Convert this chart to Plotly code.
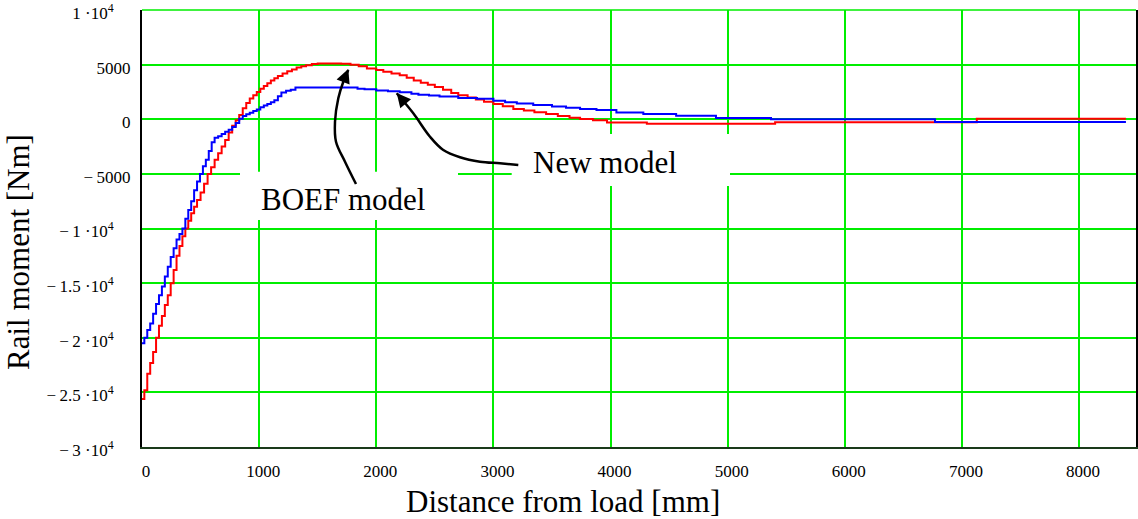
import plotly.graph_objects as go

# ---------------- data ----------------
boef_x = [0, 20, 45, 70, 95, 120, 145, 170, 195, 220, 245, 270, 295, 320, 345, 370, 395, 420, 445, 470,
          500, 530, 560, 590, 620, 650, 680, 710, 740, 770, 800, 830, 860, 890, 920, 950, 980, 1010, 1040,
          1070, 1100, 1130, 1160, 1200, 1240, 1280, 1320, 1360, 1400, 1450, 1500, 1600, 1700, 1780, 1850,
          1920, 2000, 2060, 2130, 2200, 2260, 2320, 2380, 2440, 2500, 2570, 2640, 2700, 2780, 2850, 2920,
          3000, 3080, 3170, 3260, 3350, 3450, 3550, 3650, 3740, 3850, 3970, 4310, 5405, 7127, 8400]
boef_y = [-25600, -24800, -23300, -22300, -21300, -20000, -18900, -18000, -17000, -16100, -15000, -13800,
          -12500, -11600, -10700, -10000, -9300, -8600, -8000, -7400, -6700, -5900, -5000, -4400, -3700,
          -3100, -2500, -1900, -1200, -600, -100, 400, 1000, 1500, 1900, 2200, 2500, 2800, 3050, 3300, 3550,
          3750, 3950, 4200, 4400, 4550, 4750, 4850, 4950, 5050, 5100, 5100, 5080, 5000, 4850, 4650, 4500,
          4350, 4200, 4030, 3800, 3550, 3350, 3150, 2950, 2700, 2400, 2200, 2000, 1800, 1600, 1400, 1200,
          950, 800, 650, 480, 300, 150, 20, -100, -300, -420, -280, 50, 50]

new_x = [0, 20, 45, 70, 95, 120, 145, 170, 195, 220, 245, 270, 295, 320, 345, 370, 395, 420, 445, 470,
         495, 520, 545, 570, 595, 620, 650, 680, 710, 740, 770, 800, 830, 860, 890, 920, 950, 980, 1010,
         1040, 1070, 1100, 1130, 1160, 1190, 1230, 1270, 1310, 1840, 1900, 2000, 2100, 2200, 2300, 2360,
         2450, 2540, 2700, 2860, 3000, 3100, 3200, 3340, 3500, 3620, 3740, 3880, 4050, 4280, 4560, 4900,
         5370, 6770, 8400]
new_y = [-20500, -20000, -19300, -18700, -17800, -16900, -16100, -15300, -14400, -13500, -12600, -11800,
         -11000, -10500, -10000, -9100, -8300, -7500, -6500, -5700, -5000, -4300, -3700, -2900, -2100,
         -1700, -1550, -1350, -1150, -950, -700, -350, 50, 300, 450, 600, 750, 900, 1100, 1250, 1400, 1550,
         1750, 2100, 2450, 2600, 2700, 2900, 2800, 2750, 2640, 2570, 2480, 2330, 2250, 2180, 2080, 1950,
         1870, 1700, 1560, 1450, 1310, 1160, 1050, 940, 850, 630, 480, 320, 110, 0, -250, -250]

x_ticks = [0, 1000, 2000, 3000, 4000, 5000, 6000, 7000, 8000]
x_tick_text = ["0", "1000", "2000", "3000", "4000", "5000", "6000", "7000", "8000"]
y_ticks = [10000, 5000, 0, -5000, -10000, -15000, -20000, -25000, -30000]
PAD = "\u2007\u2007"
y_tick_text = ["1 ·10<sup>4</sup>" + PAD, "5000", "0", "−\u20095000", "−\u20091 ·10<sup>4</sup>" + PAD,
               "−\u20091.5 ·10<sup>4</sup>" + PAD, "−\u20092 ·10<sup>4</sup>" + PAD,
               "−\u20092.5 ·10<sup>4</sup>" + PAD, "−\u20093 ·10<sup>4</sup>" + PAD]

X_RANGE = [0, 8486]
Y_RANGE = [-30000, 10002]

# ---------------- layout geometry (pixels) ----------------
W, H = 1138, 519
PX_L, PX_R, PX_T, PX_B = 142, 1136, 10, 447


def px_x(px):
    return X_RANGE[0] + (px - PX_L) / (PX_R - PX_L) * (X_RANGE[1] - X_RANGE[0])


def px_y(py):
    return Y_RANGE[1] - (py - PX_T) / (PX_B - PX_T) * (Y_RANGE[1] - Y_RANGE[0])


def paper_x(px):
    return (px - PX_L) / (PX_R - PX_L)


def paper_y(py):
    return (PX_B - py) / (PX_B - PX_T)


FONT = "Liberation Serif, Times New Roman, serif"
GRID = "#00ee00"

fig = go.Figure()

fig.add_trace(go.Scatter(x=boef_x, y=boef_y, mode="lines", line=dict(color="#ff0000", width=2, shape="hv"),
                         name="BOEF model", hoverinfo="skip"))
fig.add_trace(go.Scatter(x=new_x, y=new_y, mode="lines", line=dict(color="#0000ff", width=2, shape="hv"),
                         name="New model", hoverinfo="skip"))

# curved callout arrows (pixel paths)
boef_arrow_px = [(356, 184), (345, 161.7), (336, 141.7), (335, 121.7), (338.3, 98.3), (343.3, 81.7), (348.3, 70)]
new_arrow_px = [(518.3, 165), (500, 163.3), (480, 161.7), (460, 157.3), (443.3, 150), (430, 136.7),
                (413.3, 113.3), (396.7, 93.3)]
for pts in (boef_arrow_px, new_arrow_px):
    fig.add_trace(go.Scatter(x=[px_x(p[0]) for p in pts], y=[px_y(p[1]) for p in pts], mode="lines",
                             line=dict(color="black", width=2.5, shape="spline", smoothing=1),
                             hoverinfo="skip", showlegend=False))

shapes = [
    # top grid line at 1·10^4 (plotly drops grid lines lying on the plot edge)
    dict(type="line", xref="paper", yref="paper", x0=0, x1=1, y0=1, y1=1,
         line=dict(color=GRID, width=1.6), layer="below"),
]
# white label boxes hiding the grid
for (x0, x1, y0, y1) in [(240, 458, 171.7, 220), (511.7, 730, 134, 186)]:
    shapes.append(dict(type="rect", xref="x", yref="y", x0=px_x(x0), x1=px_x(x1), y0=px_y(y1), y1=px_y(y0),
                       fillcolor="white", line=dict(width=0), layer="between"))

annotations = [
    dict(x=px_x(343), y=px_y(199.5), xref="x", yref="y", text="BOEF model", showarrow=False,
         font=dict(family=FONT, size=31, color="black"), xanchor="center", yanchor="middle"),
    dict(x=px_x(605), y=px_y(162.8), xref="x", yref="y", text="New model", showarrow=False,
         font=dict(family=FONT, size=31, color="black"), xanchor="center", yanchor="middle"),
    # arrowheads
    dict(x=px_x(348.3), y=px_y(69), xref="x", yref="y", text="", showarrow=True, ax=-6, ay=15,
         arrowhead=2, arrowsize=1.4, arrowwidth=2, arrowcolor="black", standoff=0),
    dict(x=px_x(396.7), y=px_y(93), xref="x", yref="y", text="", showarrow=True, ax=10, ay=12,
         arrowhead=2, arrowsize=1.4, arrowwidth=2, arrowcolor="black", standoff=0),
    # axis titles
    dict(x=paper_x(563), y=paper_y(501), xref="paper", yref="paper", text="Distance from load [mm]",
         showarrow=False, font=dict(family=FONT, size=31, color="black"), xanchor="center", yanchor="middle"),
    dict(x=paper_x(18), y=paper_y(252), xref="paper", yref="paper", text="Rail moment [Nm]", textangle=-90,
         showarrow=False, font=dict(family=FONT, size=31, color="black"), xanchor="center", yanchor="middle"),
]

fig.update_layout(
    width=W, height=H,
    margin=dict(l=PX_L, r=W - PX_R, t=PX_T, b=H - PX_B, pad=0, autoexpand=False),
    paper_bgcolor="white", plot_bgcolor="white",
    showlegend=False,
    shapes=shapes,
    annotations=annotations,
    font=dict(family=FONT, size=17, color="black"),
)

fig.update_xaxes(range=X_RANGE, tickmode="array", tickvals=x_ticks, ticktext=x_tick_text,
                 showgrid=True, gridcolor=GRID, gridwidth=1.6, zeroline=False,
                 showline=True, linecolor="#1a3a1a", linewidth=2, mirror=False, automargin=False,
                 ticks="", ticklabelstandoff=8, ticklabelshift=4,
                 tickfont=dict(family=FONT, size=17, color="black"))
fig.update_yaxes(range=Y_RANGE, tickmode="array", tickvals=y_ticks, ticktext=y_tick_text,
                 showgrid=True, gridcolor=GRID, gridwidth=1.6, zeroline=False,
                 showline=True, linecolor="black", linewidth=2, mirror=True, automargin=False,
                 ticks="", ticklabelstandoff=6, ticklabelshift=3, ticklabeloverflow="allow",
                 tickfont=dict(family=FONT, size=17, color="black"))

fig.write_html("out.html")
